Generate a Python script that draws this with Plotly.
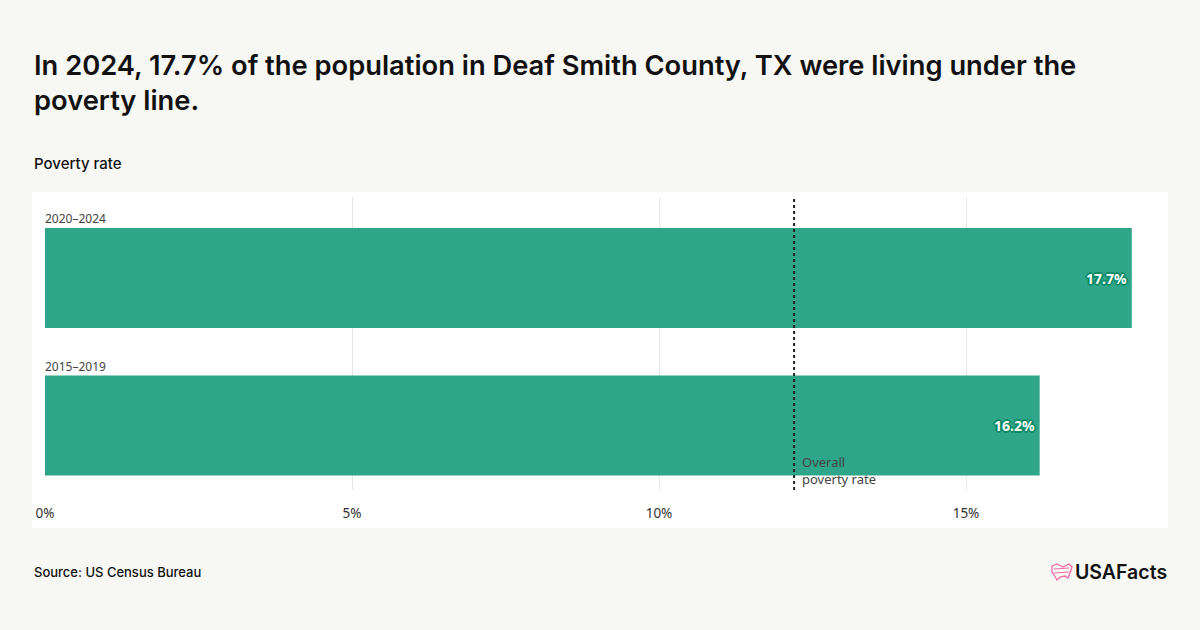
import plotly.graph_objects as go

categories = ["2015–2019", "2020–2024"]
values = [16.2, 17.7]
overall_rate = 12.2
tick_vals = [0, 5, 10, 15]
tick_text = ["0%", "5%", "10%", "15%"]

W, H = 1200, 630
L, R, T, B = 45, 32, 197, 140
PW, PH = W - L - R, H - T - B

def px(x):
    return (x - L) / PW

def py(y):
    return (H - B - y) / PH

BG = "#f7f7f3"
BAR = "#2fa589"
HALO = "#0b8a66"
SHADOW = (f"-1px -1px 0 {HALO}, 1px -1px 0 {HALO}, -1px 1px 0 {HALO}, 1px 1px 0 {HALO}, "
          f"0 -2px 0 {HALO}, 0 2px 0 {HALO}, -2px 0 0 {HALO}, 2px 0 0 {HALO}")
valfont = dict(family="Noto Sans", size=14, color="white", weight="bold", shadow=SHADOW)

fig = go.Figure()
fig.add_trace(go.Bar(
    y=categories, x=values, orientation="h",
    marker=dict(color=BAR, line=dict(width=0)),
    width=0.678,
    hoverinfo="skip",
))

shapes = [
    dict(type="rect", xref="paper", yref="paper", x0=px(32), x1=px(1168), y0=py(528), y1=py(192),
         fillcolor="white", line=dict(width=0), layer="below"),
    dict(type="line", xref="x", yref="paper", x0=overall_rate, x1=overall_rate, y0=0, y1=1,
         line=dict(color="#222222", width=2, dash="dot")),
]

annotations = [
    dict(xref="paper", yref="paper", x=px(32), y=py(47), xanchor="left", yanchor="top", align="left",
         text="In 2024, 17.7% of the population in Deaf Smith County, TX were living under the<br>poverty line.",
         showarrow=False, font=dict(family="Inter", size=27.3, color="#111111", weight=600)),
    dict(xref="paper", yref="paper", x=px(32), y=py(163), xanchor="left", yanchor="middle",
         text="Poverty rate", showarrow=False, font=dict(family="Inter", size=15, color="#111111", weight=500)),
    dict(xref="paper", yref="paper", x=px(32), y=py(572), xanchor="left", yanchor="middle",
         text="Source: US Census Bureau", showarrow=False, font=dict(family="Inter", size=13, color="#111111", weight=500)),
    dict(xref="paper", yref="paper", x=px(1169), y=py(572), xanchor="right", yanchor="middle",
         text="USAFacts", showarrow=False, font=dict(family="Inter", size=19.5, color="#111111", weight=600)),
    dict(xref="x", yref="paper", x=overall_rate, y=py(470), xanchor="left", yanchor="middle", align="left",
         xshift=6, text="Overall<br>poverty rate", showarrow=False,
         font=dict(family="Noto Sans", size=13, color="#444444")),
]
for c, v in zip(categories, values):
    annotations.append(dict(xref="x", yref="y", x=0, y=c, xanchor="left", yanchor="bottom",
                            yshift=49, xshift=-2, text=c, showarrow=False,
                            font=dict(family="Noto Sans", size=12, color="#444444")))
    annotations.append(dict(xref="x", yref="y", x=v, y=c, xanchor="right", yanchor="middle",
                            xshift=-3, text=f"{v:.1f}%", showarrow=False, font=valfont))

# USAFacts logo icon (stylized map outline)
pts = [(1052, 566), (1057, 564), (1063, 567), (1069, 564), (1072, 567), (1070, 573),
       (1068, 578), (1065, 576), (1060, 577), (1057, 580), (1054, 575), (1052, 572)]
path = "M " + " L ".join(f"{px(a):.5f} {py(b):.5f}" for a, b in pts) + " Z"
shapes.append(dict(type="path", xref="paper", yref="paper", path=path,
                   line=dict(color="#f06aa8", width=1.3), fillcolor="rgba(0,0,0,0)"))
for yy in (569, 573):
    shapes.append(dict(type="line", xref="paper", yref="paper", x0=px(1054), x1=px(1069),
                       y0=py(yy), y1=py(yy - 1), line=dict(color="#f06aa8", width=1)))

fig.update_layout(
    width=W, height=H,
    margin=dict(l=L, r=R, t=T, b=B, pad=0),
    paper_bgcolor=BG, plot_bgcolor="white",
    showlegend=False,
    bargap=0.3,
    xaxis=dict(range=[0, PW / 61.4], tickvals=tick_vals, ticktext=tick_text,
               showgrid=True, gridcolor="#e6e6e6", gridwidth=1, zeroline=False,
               showline=False, ticks="outside", ticklen=11, tickcolor="rgba(0,0,0,0)",
               tickfont=dict(family="Noto Sans", size=13.5, color="#333333"), fixedrange=True),
    yaxis=dict(type="category", categoryorder="array", categoryarray=categories,
               range=[-0.437, 1.549], showticklabels=False, showgrid=False, zeroline=False,
               showline=False, fixedrange=True),
    shapes=shapes,
    annotations=annotations,
)

fig.write_html("out.html")
